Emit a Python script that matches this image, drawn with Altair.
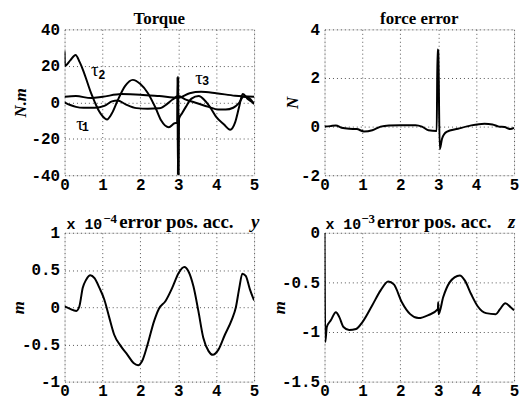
import altair as alt
import pandas as pd

# ---------------- data ----------------
t_tau1 = [0, 0.15, 0.3, 0.5, 0.8, 1.05, 1.25, 1.4, 1.6, 1.9, 2.2, 2.5, 2.7, 2.85, 3.0,
          3.2, 3.5, 3.8, 4.05, 4.25, 4.45, 4.6, 4.72, 4.85, 5.0]
v_tau1 = [0, -1.5, -2.5, -3, -3, -2, 0.5, 1, -1, -3.2, -3.5, -3.3, -1, 1.5, 3.4,
          1.5, -0.5, -2.5, -4, -4, -3, -0.5, 3, 2.5, -1]

t_tau2 = [0, 0.01, 0.15, 0.29, 0.4, 0.5, 0.6, 0.7, 0.8, 0.9, 1.0, 1.12, 1.25, 1.4, 1.6,
          1.8, 2.0, 2.2, 2.4, 2.55, 2.75, 2.9, 2.97, 2.98, 2.99, 3.0, 3.01, 3.02, 3.1, 3.2, 3.35,
          3.54, 3.7, 3.85, 4.0, 4.2, 4.37, 4.5, 4.6, 4.7, 4.85, 5.0]
v_tau2 = [28, 20, 23, 26, 22, 17, 11, 5, 0, -4.5, -7.5, -9.4, -6, 1, 9,
          12.3, 10, 5, -3, -10, -13.7, -11.5, -11.2, 14, -40, 14, -40, -9, -6, -2.5, 2,
          3.4, 1, -3, -8, -12, -15, -11, -3, 4.5, 1.5, -0.5]

t_tau3 = [0, 0.3, 0.7, 1.0, 1.5, 2.0, 2.5, 3.0, 3.3, 3.6, 4.0, 4.5, 5.0]
v_tau3 = [3, 3.4, 2.3, 3, 4.5, 4.2, 3.4, 2.5, 5, 5.8, 5, 3.6, 3]

t_force = [0, 0.15, 0.3, 0.45, 0.65, 0.85, 1.04, 1.26, 1.48, 1.7, 2.0, 2.4, 2.57, 2.74,
           2.96, 2.98, 3.0, 3.04, 3.1, 3.22, 3.52, 3.87, 4.22, 4.43, 4.6, 4.75, 4.9, 5.0]
v_force = [0, 0.02, 0.05, -0.05, -0.09, -0.1, -0.2, -0.15, 0, 0.05, 0.06, 0.06, 0, -0.15,
           -0.18, 3.17, 3.1, -0.93, -0.5, -0.22, -0.09, 0.05, 0.12, 0.09, 0.0, -0.02, -0.1, -0.05]

t_posy = [0, 0.13, 0.31, 0.39, 0.48, 0.57, 0.68, 0.79, 0.92, 1.05, 1.18, 1.31, 1.48, 1.66,
          1.82, 1.94, 2.05, 2.18, 2.36, 2.49, 2.66, 2.84, 3.01, 3.16, 3.27, 3.4, 3.53, 3.66,
          3.8, 3.91, 4.06, 4.23, 4.41, 4.52, 4.61, 4.69, 4.78, 4.89, 5.0]
v_posy = [0.01, -0.02, -0.05, 0.01, 0.26, 0.37, 0.43, 0.39, 0.26, 0.1, -0.14, -0.37, -0.52, -0.64,
          -0.75, -0.78, -0.72, -0.52, -0.19, -0.02, 0.08, 0.26, 0.46, 0.54, 0.48, 0.28, -0.05, -0.41,
          -0.59, -0.64, -0.57, -0.37, -0.17, 0.0, 0.26, 0.45, 0.42, 0.24, 0.09]

t_posz = [0, 0.02, 0.06, 0.17, 0.3, 0.39, 0.5, 0.65, 0.83, 1.0, 1.26, 1.48, 1.68, 1.83,
          2.04, 2.26, 2.48, 2.74, 2.99, 3.0, 3.01, 3.13, 3.3, 3.43, 3.57, 3.7, 3.87, 4.04,
          4.26, 4.52, 4.63, 4.77, 4.91, 5.0]
v_posz = [0, -1.1, -0.95, -0.88, -0.8, -0.85, -0.95, -0.98, -0.97, -0.9, -0.73, -0.58, -0.49, -0.52,
          -0.7, -0.82, -0.86, -0.83, -0.77, -0.70, -0.82, -0.65, -0.5, -0.45, -0.43, -0.48, -0.62, -0.74,
          -0.81, -0.82, -0.77, -0.71, -0.75, -0.78]

tau_names = ["1", "2", "3"]
tau_label_t = [0.41, 0.80, 3.55]
tau_label_v = [-11.9, 17.6, 13.1]
tau_sub_t = [0.55, 0.98, 3.72]
tau_sub_v = [-13.5, 14.8, 11.4]

x_ticks = [0, 1, 2, 3, 4, 5]
yticks_torque = [-40, -20, 0, 20, 40]
yticks_force = [-2, 0, 2, 4]
yticks_posy = [-1, -0.5, 0, 0.5, 1]
yticks_posz = [-1.5, -1, -0.5, 0]

# ---------------- styling helpers ----------------
MONO = "Liberation Mono"
SERIF = "Liberation Serif"
W = 191
H_TOP = 147
H_BOT = 150


def x_enc():
    return alt.X("t:Q", scale=alt.Scale(domain=[0, 5], nice=False),
                 axis=alt.Axis(values=x_ticks, title=None, format="d",
                               labelFont=MONO, labelFontWeight="bold", labelFontSize=16,
                               labelColor="black", labelPadding=1, labelFlush=False,
                               labelOverlap=False, ticks=False, domain=False,
                               grid=True, gridDash=[1, 3], gridColor="#555", gridOpacity=1))


def y_enc(domain, ticks, title, tpad):
    return alt.Y("v:Q", scale=alt.Scale(domain=domain, nice=False, zero=False),
                 axis=alt.Axis(values=ticks, title=title, labelExpr="toString(datum.value)",
                               labelFont=MONO, labelFontWeight="bold", labelFontSize=16,
                               labelColor="black", labelPadding=5, labelFlush=False,
                               labelOverlap=False, ticks=False, domain=False,
                               grid=True, gridDash=[1, 3], gridColor="#555", gridOpacity=1,
                               titleFont=SERIF, titleFontSize=17, titleFontWeight="bold",
                               titleFontStyle="italic", titleColor="black",
                               titlePadding=tpad, minExtent=0, maxExtent=0))


def line(df, domain, ticks, title, tpad, h):
    return alt.Chart(df).mark_line(color="black", strokeWidth=2, interpolate="monotone",
                                   clip=True).encode(
        x=x_enc(), y=y_enc(domain, ticks, title, tpad), detail="s:N"
    ).properties(width=W, height=h)


one = pd.DataFrame({"a": [0]})


def txt(text, x, y, font, size, style="normal", weight="bold"):
    return alt.Chart(one).mark_text(text=text, font=font, fontSize=size, fontWeight=weight,
                                    fontStyle=style, align="left", baseline="alphabetic",
                                    color="black").encode(x=alt.value(x), y=alt.value(y))


# ---------------- panels ----------------
df_torque = pd.concat([
    pd.DataFrame({"t": t_tau1, "v": v_tau1, "s": "tau1"}),
    pd.DataFrame({"t": t_tau2, "v": v_tau2, "s": "tau2"}),
    pd.DataFrame({"t": t_tau3, "v": v_tau3, "s": "tau3"}),
])
df_tau = pd.DataFrame({"t": tau_label_t, "v": tau_label_v})
df_sub = pd.DataFrame({"t": tau_sub_t, "v": tau_sub_v, "n": tau_names})

TL_PAD = 35
tl_line = line(df_torque, [-40, 40], yticks_torque, "N.m", TL_PAD, H_TOP)
tl_tau = alt.Chart(df_tau).mark_text(text="τ", font=SERIF, fontSize=19, color="black",
                                     align="center", baseline="middle").encode(
    x=x_enc(), y=y_enc([-40, 40], yticks_torque, "N.m", TL_PAD))
tl_sub = alt.Chart(df_sub).mark_text(font=MONO, fontSize=12, fontWeight="bold", color="black",
                                     align="center", baseline="middle").encode(
    x=x_enc(), y=y_enc([-40, 40], yticks_torque, "N.m", TL_PAD), text="n:N")
title_style = dict(font=SERIF, fontSize=17, fontWeight="bold", color="black",
                   anchor="middle", offset=4, frame="group", dy=11)
top_left = alt.layer(tl_line, tl_tau, tl_sub).properties(
    title=alt.TitleParams("Torque", **title_style))

df_force = pd.DataFrame({"t": t_force, "v": v_force, "s": "f"})
top_right = line(df_force, [-2, 4], yticks_force, "N", 23, H_TOP).properties(
    title=alt.TitleParams("force error", **title_style))

df_posy = pd.DataFrame({"t": t_posy, "v": v_posy, "s": "y"})
bot_left = alt.layer(
    line(df_posy, [-1, 1], yticks_posy, "m", 37, H_BOT),
    txt("x 10", 2, -4, MONO, 15),
    txt("\u22124", 39, -10, SERIF, 13),
    txt("error pos. acc.", 55, -5, SERIF, 19),
    txt("y", 188, -5, SERIF, 19, style="italic"),
)

df_posz = pd.DataFrame({"t": t_posz, "v": v_posz, "s": "z"})
bot_right = alt.layer(
    line(df_posz, [-1.5, 0], yticks_posz, "m", 36, H_BOT),
    txt("x 10", 1, -4, MONO, 15),
    txt("\u22123", 37, -10, SERIF, 13),
    txt("error pos. acc.", 53, -5, SERIF, 19),
    txt("z", 185, -5, SERIF, 19, style="italic"),
)

chart = alt.concat(top_left, top_right, bot_left, bot_right, columns=2,
                   spacing={"row": 58, "column": 71}, bounds="flush").properties(
    padding={"left": 1, "top": 0, "right": 0, "bottom": 0}
).configure_view(stroke="black", strokeWidth=1).configure(background="white")

chart.save("out.html", embed_options={"renderer": "svg", "actions": False})
